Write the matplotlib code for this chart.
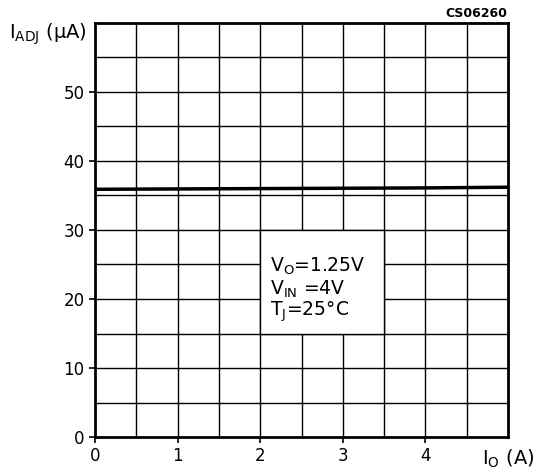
import matplotlib
matplotlib.use("Agg")
import matplotlib.pyplot as plt
from matplotlib.patches import Rectangle
import numpy as np

# I_O (A) vs I_ADJ (uA)
io_amps = [0.0, 1.0, 2.0, 3.0, 4.0, 5.0]
iadj_ua = [35.9, 35.95, 36.0, 36.05, 36.1, 36.2]

x_ticks = [0, 1, 2, 3, 4]
y_ticks = [0, 10, 20, 30, 40, 50]
conditions = [r'V$_{\mathrm{O}}$=1.25V', r'V$_{\mathrm{IN}}$ =4V', r'T$_{\mathrm{J}}$=25°C']

plt.rcParams['font.family'] = ['DejaVu Sans']
plt.rcParams['mathtext.default'] = 'regular'

fig = plt.figure(figsize=(5.35, 4.73), dpi=100)
ax = fig.add_axes([0.1776, 0.0761, 0.772, 0.8753])
ax.set_xlim(0, 5)
ax.set_ylim(0, 60)

# grid every 0.5 A and 5 uA
for gx in np.arange(0.5, 5, 0.5):
    ax.axvline(gx, color='black', lw=1.0, zorder=1)
for gy in np.arange(5, 60, 5):
    ax.axhline(gy, color='black', lw=1.0, zorder=1)

# blank box for the conditions
ax.add_patch(Rectangle((2.0, 15.0), 1.5, 15.0, facecolor='white',
                       edgecolor='black', lw=1.0, zorder=2))
for i, txt in enumerate(conditions):
    ax.text(2.12, 24.7 - i * 3.3, txt, fontsize=13.5, va='center', ha='left', zorder=3)

ax.plot(io_amps, iadj_ua, color='black', lw=2.5, zorder=4)

for s in ax.spines.values():
    s.set_linewidth(2)
ax.set_xticks(x_ticks)
ax.set_yticks(y_ticks)
ax.tick_params(axis='both', labelsize=12, length=4, width=1.2, direction='out')
ax.tick_params(axis='x', pad=3)

ax.text(5.0, -3.1, r'I$_{\mathrm{O}}$ (A)', fontsize=14, ha='center', va='center')
ax.text(-0.1, 58.4, r'I$_{\mathrm{ADJ}}$ ($\mu$A)', fontsize=14, ha='right', va='center')
fig.text(0.949, 0.972, 'CS06260', fontsize=9, fontweight='bold', ha='right', va='center')

fig.savefig('out.png', dpi=100)
plt.close(fig)
